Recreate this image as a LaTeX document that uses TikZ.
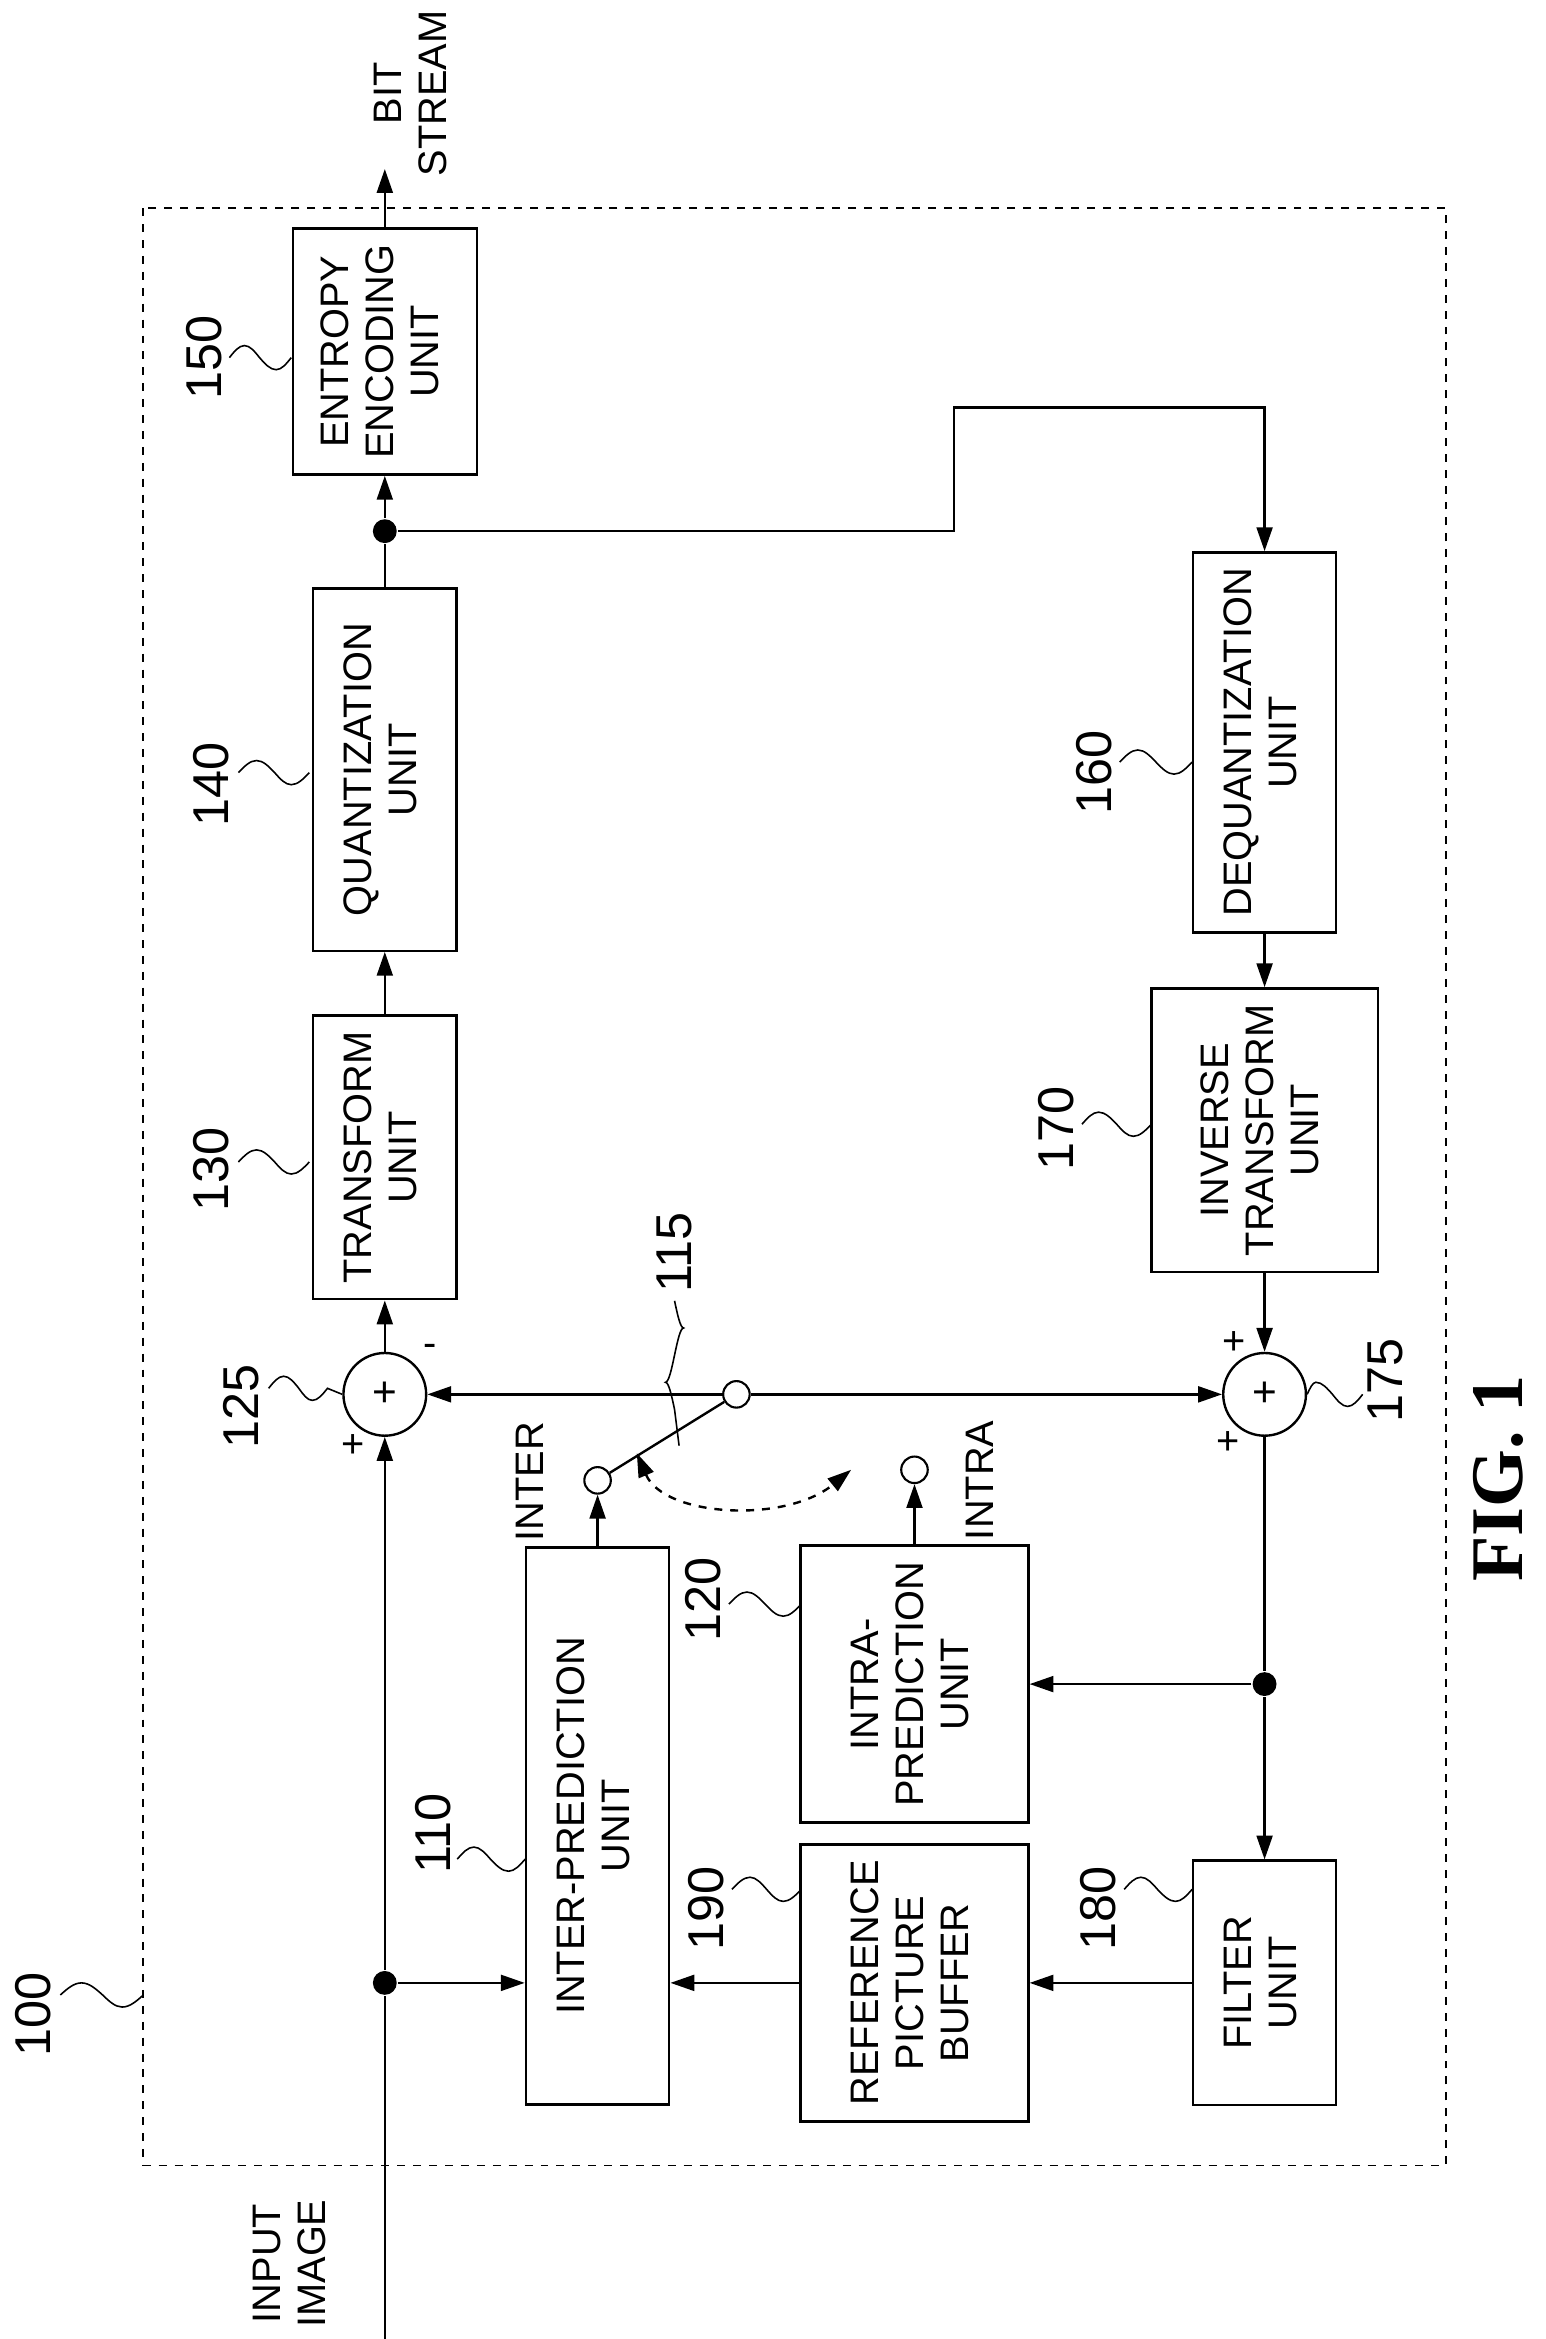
\documentclass[tikz,border=0pt]{standalone}
\usepackage{fontspec}
\setmainfont{Liberation Sans}
\newfontfamily\figfont{Liberation Serif}
\usetikzlibrary{arrows.meta}
\begin{document}
\begin{tikzpicture}[x=0.02cm,y=-0.02cm,line width=0.9pt,
  box/.style={draw,inner sep=0pt,font=\fontsize{15}{17}\selectfont},
  ar/.style={-{Triangle[length=9pt,width=6pt]}},
  num/.style={rotate=90,font=\fontsize{19}{21}\selectfont},
  lbl/.style={rotate=90,font=\fontsize{15}{17}\selectfont,align=center},
  dot/.style={circle,fill,inner sep=0pt,minimum size=9pt},
  sw/.style={circle,draw,fill=white,inner sep=0pt,minimum size=10pt,line width=0.8pt},
  add/.style={circle,draw,minimum size=44pt*0.709,inner sep=0pt},
  lead/.style={line width=0.6pt}]
\useasboundingbox (0,0) rectangle (1024,1550);
\newcommand{\rb}[1]{\rotatebox{90}{\begin{tabular}{c}#1\end{tabular}}}
% frame
\draw[dashed,line width=0.7pt] (95,138) rectangle (958,1435);
% boxes
\node[box,minimum width=95*0.02cm,minimum height=369*0.02cm] (inter) at (396,1210) {\rb{INTER-PREDICTION\\UNIT}};
\node[box,minimum width=151*0.02cm,minimum height=162*0.02cm] (ref) at (606,1314) {\rb{REFERENCE\\PICTURE\\BUFFER}};
\node[box,minimum width=95*0.02cm,minimum height=162*0.02cm] (filt) at (838,1314) {\rb{FILTER\\UNIT}};
\node[box,minimum width=151*0.02cm,minimum height=168*0.02cm] (intra) at (606,1116) {\rb{INTRA-\\PREDICTION\\UNIT}};
\node[box,minimum width=95*0.02cm,minimum height=175*0.02cm] (tr) at (255,767) {\rb{TRANSFORM\\UNIT}};
\node[box,minimum width=95*0.02cm,minimum height=240*0.02cm] (qu) at (255,510) {\rb{QUANTIZATION\\UNIT}};
\node[box,minimum width=122*0.02cm,minimum height=147*0.02cm] (ent) at (255,233) {\rb{ENTROPY\\ENCODING\\UNIT}};
\node[box,minimum width=95*0.02cm,minimum height=245*0.02cm] (deq) at (838,492) {\rb{DEQUANTIZATION\\UNIT}};
\node[box,minimum width=150*0.02cm,minimum height=178*0.02cm] (itr) at (838,749) {\rb{INVERSE\\TRANSFORM\\UNIT}};
% adders
\node[add] (a125) at (255,924) {\fontsize{16}{16}\selectfont +};
\node[add] (a175) at (838,924) {\fontsize{16}{16}\selectfont +};
% dots
\node[dot] (din) at (255,1314) {};
\node[dot] (dq) at (255,352) {};
\node[dot] (dr) at (838,1116) {};
% switch circles
\node[sw] (cin) at (396,981) {};
\node[sw] (cout) at (488,924) {};
\node[sw] (cia) at (606,974) {};
% terminals
\coordinate (inp) at (255,1550);
\coordinate (bs) at (255,112);
\coordinate (k1) at (632,352);
\coordinate (k2) at (632,270);
\coordinate (k3) at (838,270);
% main path
\draw (inp) -- (din);
\draw[ar] (din) -- (a125);
\draw[ar] (a125) -- (tr);
\draw[ar] (tr) -- (qu);
\draw (qu) -- (dq);
\draw[ar] (dq) -- (ent);
\draw[ar] (ent) -- (bs);
\draw[ar] (dq) -- (k1) -- (k2) -- (k3) -- (deq);
\draw[ar] (deq) -- (itr);
\draw[ar] (itr) -- (a175);
\draw (a175) -- (dr);
\draw[ar] (dr) -- (filt);
\draw[ar] (dr) -- (intra.east |- dr);
\draw[ar] (filt) -- (ref);
\draw[ar] (ref.west) -- (inter.east |- ref.west);
\draw[ar] (din) -- (inter.west |- din);
% switch
\draw[ar] (inter.north) -- (cin);
\draw[ar] (intra.north) -- (cia);
\draw[ar] (cout) -- (a125);
\draw[ar] (cout) -- (a175);
\draw (cin) -- (cout);
\draw[dashed,{Triangle[length=9pt,width=6pt]}-{Triangle[length=9pt,width=6pt]}] (422,963) .. controls (440,1005) and (520,1010) .. (564,974);
% signs
\node[font=\fontsize{15}{15}\selectfont] at (234,958) {+};
\node[font=\fontsize{15}{15}\selectfont] at (285,895) {-};
\node[font=\fontsize{15}{15}\selectfont] at (818,890) {+};
\node[font=\fontsize{15}{15}\selectfont] at (814,956) {+};
% labels
\node[lbl] (tin) at (192,1500) {INPUT\\IMAGE};
\node[lbl] (tbs) at (272,62) {BIT\\STREAM};
\node[lbl] (tinter) at (351,982) {INTER};
\node[lbl] (tintra) at (649,981) {INTRA};
\node[rotate=90,font=\figfont\bfseries\fontsize{28}{30}\selectfont] (fig) at (993,980) {FIG. 1};
% reference numbers with leaders
\node[num] (n100) at (22,1335) {100};
\draw[lead] (40,1322) sin (54,1314) cos (68,1322) sin (81,1330) cos (95,1322);
\node[num] (n110) at (287,1215) {110};
\draw[lead] (303,1232) sin (314,1224) cos (325,1232) sin (337,1240) cos (348,1232);
\node[num] (n190) at (468,1265) {190};
\draw[lead] (485,1252) sin (497,1244) cos (508,1252) sin (519,1260) cos (531,1252);
\node[num] (n180) at (728,1265) {180};
\draw[lead] (745,1252) sin (756,1244) cos (767,1252) sin (779,1260) cos (790,1252);
\node[num] (n120) at (466,1060) {120};
\draw[lead] (483,1063) sin (495,1055) cos (507,1063) sin (519,1071) cos (531,1063);
\node[num] (n130) at (140,775) {130};
\draw[lead] (158,770) sin (170,762) cos (182,770) sin (193,778) cos (205,770);
\node[num] (n140) at (140,520) {140};
\draw[lead] (158,512) sin (170,504) cos (182,512) sin (193,520) cos (205,512);
\node[num] (n150) at (135,237) {150};
\draw[lead] (152,237) sin (162,229) cos (172,237) sin (183,245) cos (193,237);
\node[num] (n160) at (725,512) {160};
\draw[lead] (742,505) sin (754,497) cos (766,505) sin (778,513) cos (790,505);
\node[num] (n170) at (700,748) {170};
\draw[lead] (717,745) sin (728,737) cos (740,745) sin (751,753) cos (763,745);
\node[num] (n125) at (160,932) {125};
\draw[lead] (178,920) sin (188,912) cos (198,920) sin (207,928) cos (217,920) -- (a125.west);
\node[num] (n175) at (918,915) {175};
\draw[lead] (a175.east) sin (872,916) cos (883,924) sin (893,932) cos (903,924);
\node[num] (n115) at (447,830) {115};
\draw[lead] (447,862) sin (453,880) cos (447,898) sin (441,916) cos (447,934) -- (450,958);
\end{tikzpicture}
\end{document}
